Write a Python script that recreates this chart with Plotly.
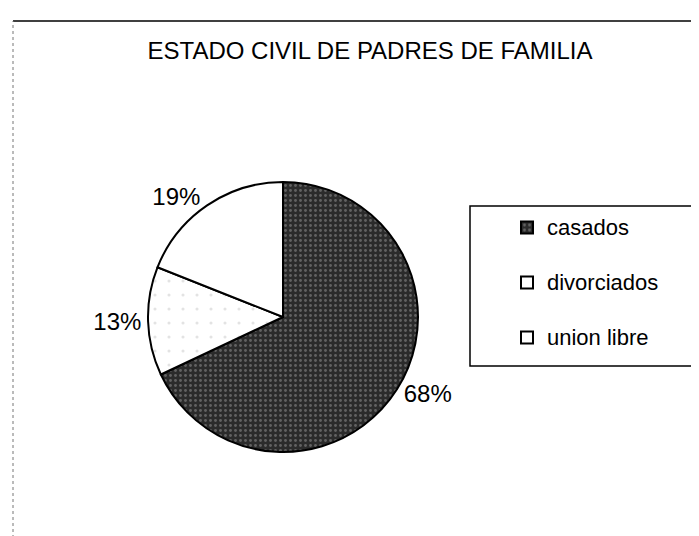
'''
    Pie chart: estado civil de padres de familia.
'''

import plotly.graph_objects as go

labels = ["casados", "divorciados", "union libre"]
values = [68, 13, 19]
colors = ["#2b2b2b", "#ffffff", "#ffffff"]

W, H = 699, 536
CX, CY, R = 275, 309, 135


def legend_label(text):
    # second empty line to space the legend items like the original
    return '<span style="font-size:22px">' + text + '</span><br> '


fig = go.Figure()
fig.add_trace(go.Pie(
    labels=[legend_label(t) for t in labels],
    values=values,
    sort=False,
    direction="clockwise",
    rotation=0,
    textinfo="percent",
    texttemplate="%{percent:.0%}",
    textposition="outside",
    textfont=dict(size=24, color="black"),
    hovertemplate="%{percent}<extra></extra>",
    marker=dict(
        colors=colors,
        line=dict(color="black", width=2),
        pattern=dict(shape=[".", ".", ""], fillmode="overlay",
                     fgcolor=["#9a9a9a", "#c8c8c8", "#ffffff"],
                     size=[5, 14, 8], solidity=[0.25, 0.04, 0.1]),
    ),
    domain=dict(x=[(CX - R) / W, (CX + R) / W],
                y=[(H - CY - R) / H, (H - CY + R) / H]),
))

fig.update_layout(
    width=W, height=H,
    margin=dict(l=0, r=0, t=0, b=0),
    paper_bgcolor="white",
    font=dict(family="Liberation Sans, Arial, sans-serif", color="black"),
    title=dict(text="ESTADO CIVIL DE PADRES DE FAMILIA", x=362 / W, xanchor="center",
               y=1 - 43 / H, yanchor="middle", font=dict(size=24)),
    showlegend=True,
    legend=dict(
        x=499 / W, xanchor="left", y=1 - 200 / H, yanchor="top",
        borderwidth=0, bgcolor="rgba(0,0,0,0)",
        font=dict(size=20), itemwidth=30, valign="top",
    ),
)

# legend frame
fig.add_shape(type="rect", xref="paper", yref="paper",
              x0=462 / W, x1=1.02, y0=1 - 358 / H, y1=1 - 198 / H,
              line=dict(color="black", width=1.5), layer="below")

# frame edges visible in the scan
fig.add_shape(type="line", xref="paper", yref="paper", x0=5 / W, x1=1, y0=1 - 13 / H, y1=1 - 13 / H,
              line=dict(color="black", width=1.5))
fig.add_shape(type="line", xref="paper", yref="paper", x0=5 / W, x1=5 / W, y0=0, y1=1 - 13 / H,
              line=dict(color="#777777", width=1, dash="dot"))

fig.write_html("out.html")
